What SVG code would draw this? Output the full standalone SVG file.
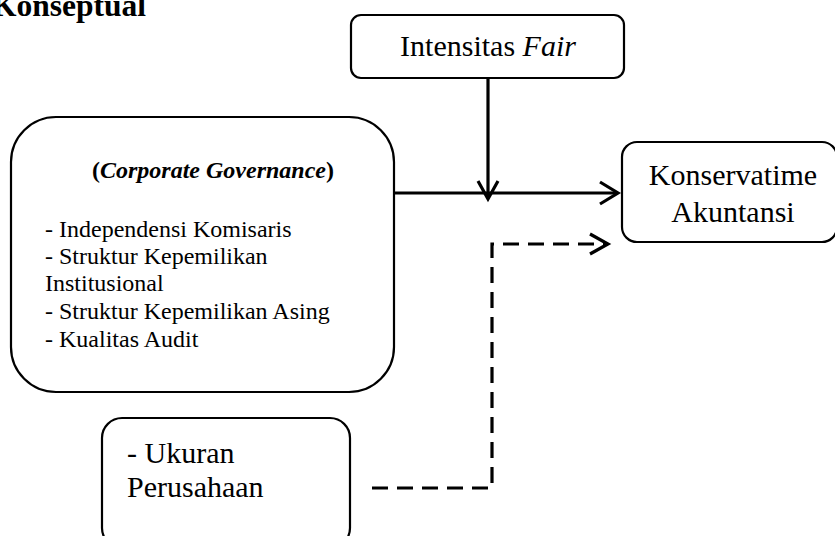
<svg xmlns="http://www.w3.org/2000/svg" width="835" height="536" viewBox="0 0 835 536">
<style>
.box{fill:#fff;stroke:#000;stroke-width:2.2}
.t{font-family:'Liberation Serif','Times New Roman','DejaVu Serif',serif;fill:#000}
.c{fill:none;stroke:#000;stroke-width:3.2}
.d{fill:none;stroke:#000;stroke-width:3.2;stroke-dasharray:16,9}
.ah{fill:none;stroke:#000;stroke-width:3.2;stroke-linejoin:miter}
</style>
<rect width="835" height="536" fill="#fff"/>
<text class="t" x="-8" y="16" font-size="31.5" font-weight="bold">Konseptual</text>
<g id="intensitas">
<rect class="box" x="351" y="15" width="273" height="63" rx="10"/>
<text class="t" x="488" y="56" font-size="30" text-anchor="middle">Intensitas <tspan font-style="italic">Fair</tspan></text>
</g>
<g id="cg">
<rect class="box" x="11" y="117" width="383" height="275" rx="45"/>
<text class="t" x="213" y="178" font-size="24" font-weight="bold" text-anchor="middle">(<tspan font-style="italic">Corporate Governance</tspan>)</text>
<text class="t" font-size="24">
<tspan x="45" y="237">- Independensi Komisaris</tspan>
<tspan x="45" y="264">- Struktur Kepemilikan</tspan>
<tspan x="45" y="291">Institusional</tspan>
<tspan x="45" y="319">- Struktur Kepemilikan Asing</tspan>
<tspan x="45" y="347">- Kualitas Audit</tspan>
</text>
</g>
<g id="konservatisme">
<rect class="box" x="622" y="142" width="215" height="100" rx="15"/>
<text class="t" x="733" y="185" font-size="30" text-anchor="middle">Konservatime</text>
<text class="t" x="733" y="222" font-size="30" text-anchor="middle">Akuntansi</text>
</g>
<g id="ukuran">
<rect class="box" x="102" y="418" width="248" height="130" rx="20"/>
<text class="t" x="127" y="463" font-size="30">- Ukuran</text>
<text class="t" x="127" y="497" font-size="30">Perusahaan</text>
</g>
<g id="connectors">
<line class="c" x1="395" y1="193" x2="617" y2="193"/>
<polyline class="ah" points="600,182 618,193 600,204"/>
<line class="c" x1="488" y1="78" x2="488" y2="198"/>
<polyline class="ah" points="478,181 488,199 498,181"/>
<polyline class="d" points="372,488 492,488 492,244 606,244"/>
<polyline class="ah" points="590,234 608,244 590,254"/>
</g>
</svg>
